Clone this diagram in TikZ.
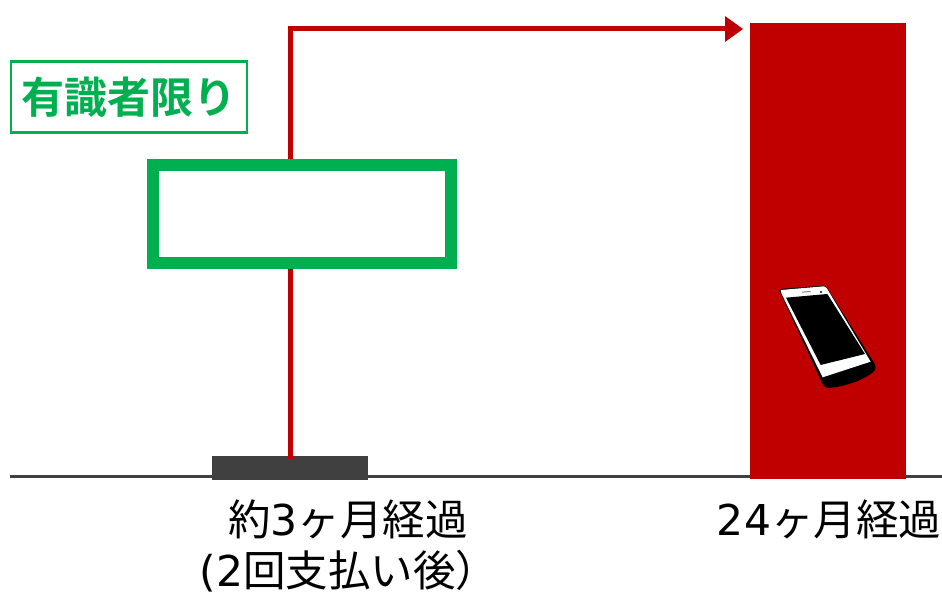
\documentclass[tikz,border=0pt]{standalone}
\usepackage{fontspec}
\newfontfamily\jpf{Noto Sans CJK JP}
\newfontfamily\jpb{Noto Sans CJK JP Bold}
\newfontfamily\latf{DejaVu Sans}
\definecolor{dred}{HTML}{C00000}
\definecolor{dgreen}{HTML}{00B050}
\definecolor{dgrey}{HTML}{404040}
\tikzset{
  conn/.style={draw=dred,line width=5pt},
  lab/.style={font=\jpf\fontsize{42.5}{52}\selectfont,text=black,inner sep=0pt,align=center},
}
\begin{document}
\begin{tikzpicture}[x=1pt,y=-1pt]
\useasboundingbox (0,0) rectangle (942,593);
% axis
\coordinate (axl) at (10,476.5);
\coordinate (axr) at (942,476.5);
\draw[dgrey,line width=2.6pt] (axl) -- (axr);
% red bar
\node[fill=dred,draw=none,minimum width=156pt,minimum height=456pt,inner sep=0pt,anchor=north west] (bar) at (750,23) {};
% grey bar
\node[fill=dgrey,draw=none,minimum width=156pt,minimum height=24pt,inner sep=0pt,anchor=north west] (start) at (212,456) {};
% box
\node[draw=dgreen,fill=white,line width=12pt,minimum width=298pt,minimum height=98pt,inner sep=0pt] (box) at (302,214) {};
% connector
\draw[conn] (290.5,458.5) -- (box.south -| 290.5,0);
\coordinate (cnr) at (290.5,29);
\coordinate (tipb) at (727,29);
\draw[conn,line cap=butt] (box.north -| 290.5,0) -- (cnr) -- (tipb);
\fill[dred] (725,16) -- (743,29) -- (725,42) -- cycle;
% limited label
\node[draw=dgreen,line width=2.2pt,fill=white,minimum width=236pt,minimum height=71pt,inner sep=0pt,anchor=north west] (ltd) at (10,60.5) {};
\node[inner sep=0pt,text=dgreen] (ltdt) at (129,97.5) {\jpb\fontsize{43}{48}\selectfont 有識者限り};
% labels
\node[lab,anchor=base] (t1) at (348,535) {約{\latf 3}ヶ月経過};
\node[lab,anchor=base] (t2) at (349,586.5) {{\latf (2}回支払い後）};
\node[lab,anchor=base] (t3) at (829,535) {{\latf 24}ヶ月経過};
% phone
\begin{scope}[shift={(740,270)},x=0.3333pt,y=-0.3333pt]
  \fill[black] (118,62) .. controls (117,58) and (122,57) .. (130,56) -- (250,47) .. controls (256,47) and (259,50) .. (262,55)
     -- (400,275) .. controls (410,288) and (410,300) .. (395,310) .. controls (360,335) and (310,350) .. (268,354)
     .. controls (258,355) and (252,350) .. (248,342) -- cycle;
  \fill[white] (122,60) -- (252,49) .. controls (256,49) and (258,51) .. (260,54) -- (392,275) -- (248,322) -- (125,72) -- cycle;
  \fill[black] (138,83) -- (262,72) -- (375,252) -- (242,285) -- cycle;
  \fill[gray] (186,65) -- (212,63) -- (212,66) -- (186,68) -- cycle;
  \fill[dgrey] (241,63) rectangle (246,68);
\end{scope}
\end{tikzpicture}
\end{document}
